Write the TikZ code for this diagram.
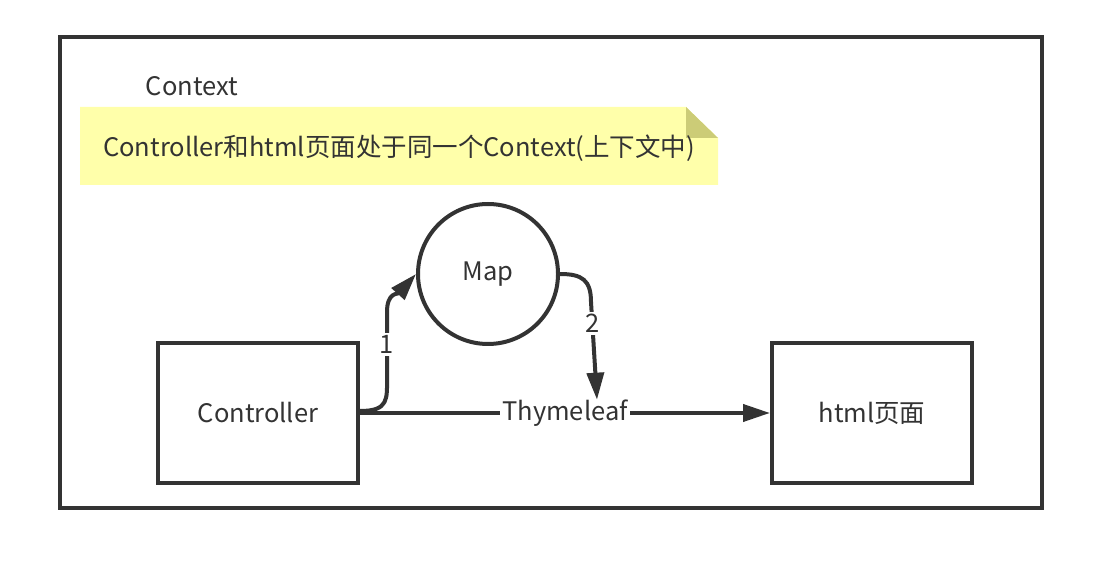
\documentclass[tikz,border=0pt]{standalone}
\usepackage{fontspec}
\setmainfont{Noto Sans CJK SC}
\usetikzlibrary{arrows.meta,positioning}
\definecolor{ink}{HTML}{333333}
\definecolor{notefill}{HTML}{FFFFAA}
\definecolor{foldfill}{HTML}{CCCC77}

\begin{document}
\begin{tikzpicture}[x=1pt, y=1pt, color=ink, font=\fontsize{25.5}{30}\selectfont,
    box/.style={draw, line width=4pt, minimum width=200pt, minimum height=140pt},
    conn/.style={line width=4pt, -{Triangle[length=27pt,width=17pt]}},
    lbl/.style={fill=white, inner sep=2pt}]
                \useasboundingbox (0, 0) rectangle (1110, 562);
                \draw[line width=4pt] (60, 54) rectangle (1042, 525);
                \node (ctxlabel) at (192, 476) {Context};

                % note with folded corner
                \fill[notefill] (80, 377) -- (80, 455) -- (686, 455) -- (718, 424) -- (718, 377) -- cycle;
                \fill[foldfill] (686, 455) -- (718, 424) -- (686, 424) -- cycle;
                \node (note) at (399, 414) {Controller和html页面处于同一个Context(上下文中)};

                \node[circle, draw, line width=4pt, minimum size=140pt] (map) at (488, 288) {Map};
                \node[box] (ctrl) at (258, 149) {Controller};
                \node[box] (html) at (872, 149) {html页面};

                \draw[conn] (ctrl.east) -- node[lbl] (thy) {Thymeleaf} (html.west);
                \draw[conn] ([yshift=2pt]ctrl.east) .. controls +(29, 0) and +(0, -22) .. (387, 185)
                    -- node[lbl] {1} (387, 250) .. controls (387, 270) and (398, 268) .. (map.west);
                \draw[conn] (map.east) .. controls +(22, 0) and +(0, 22) .. (591, 260)
                    -- node[lbl, pos=.22] {2} ([xshift=32pt, yshift=-4pt]thy.north);
            \end{tikzpicture}
\end{document}
